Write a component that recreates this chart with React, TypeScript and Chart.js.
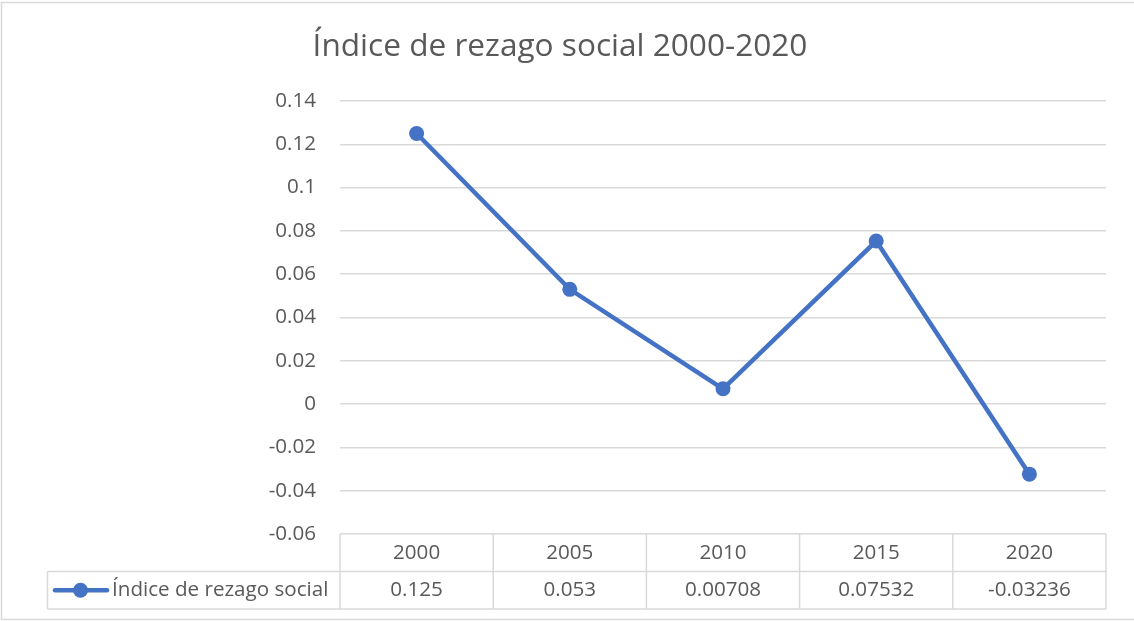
import React, { useEffect, useRef } from "react";
import { Chart, registerables } from "chart.js";

Chart.register(...registerables);

const chartTitle = "Índice de rezago social 2000-2020";
const seriesName = "Índice de rezago social";
const categories = ["2000", "2005", "2010", "2015", "2020"];
const values = [0.125, 0.053, 0.00708, 0.07532, -0.03236];
const valueLabels = ["0.125", "0.053", "0.00708", "0.07532", "-0.03236"];
const yMin = -0.06;
const yMax = 0.14;
const yStep = 0.02;

const FONT = "'Open Sans', sans-serif";
const TEXT = "#595959";
const GRID = "#d9d9d9";
const BLUE = "#4472C4";

const framePlugin = {
  id: "frame",
  beforeDraw(chart: any) {
    const ctx = chart.ctx;
    ctx.save();
    ctx.fillStyle = "#ffffff";
    ctx.fillRect(0, 0, chart.width, chart.height);
    ctx.strokeStyle = GRID;
    ctx.lineWidth = 1.5;
    ctx.strokeRect(1.5, 2.5, chart.width + 20, 617);
    ctx.fillStyle = TEXT;
    ctx.font = `31.6px ${FONT}`;
    ctx.textAlign = "center";
    ctx.textBaseline = "alphabetic";
    ctx.fillText(chartTitle, 560, 56);
    ctx.restore();
  },
};

const tablePlugin = {
  id: "excelTable",
  afterDraw(chart: any) {
    const ctx = chart.ctx;
    const xs = chart.scales.x;
    const area = chart.chartArea;
    const rowH = 37.5;
    const top = area.bottom;
    const mid = top + rowH;
    const bot = top + 2 * rowH;
    const legendLeft = 47.5;
    const n = categories.length;
    const colW = (area.right - area.left) / n;
    ctx.save();
    ctx.strokeStyle = GRID;
    ctx.lineWidth = 1.5;
    ctx.beginPath();
    ctx.moveTo(legendLeft, mid);
    ctx.lineTo(area.right, mid);
    ctx.moveTo(legendLeft, bot);
    ctx.lineTo(area.right, bot);
    ctx.moveTo(legendLeft, mid);
    ctx.lineTo(legendLeft, bot);
    for (let i = 0; i <= n; i++) {
      const px = area.left + i * colW;
      ctx.moveTo(px, top);
      ctx.lineTo(px, bot);
    }
    ctx.stroke();

    ctx.fillStyle = TEXT;
    ctx.font = `20.6px ${FONT}`;
    ctx.textAlign = "center";
    ctx.textBaseline = "middle";
    categories.forEach((c, i) => {
      const cx = xs.getPixelForValue(i);
      ctx.fillText(c, cx, (top + mid) / 2);
      ctx.fillText(valueLabels[i], cx, (mid + bot) / 2);
    });

    const ly = (mid + bot) / 2;
    ctx.strokeStyle = BLUE;
    ctx.lineWidth = 4.5;
    ctx.lineCap = "round";
    ctx.beginPath();
    ctx.moveTo(55, ly);
    ctx.lineTo(107, ly);
    ctx.stroke();
    ctx.fillStyle = BLUE;
    ctx.beginPath();
    ctx.arc(80.5, ly, 7.5, 0, Math.PI * 2);
    ctx.fill();
    ctx.fillStyle = TEXT;
    ctx.textAlign = "left";
    ctx.fillText(seriesName, 112, ly);
    ctx.restore();
  },
};

export default function App() {
  const ref = useRef<HTMLCanvasElement | null>(null);
  useEffect(() => {
    if (!ref.current) return;
    const chart = new Chart(ref.current, {
      type: "line",
      data: {
        labels: categories,
        datasets: [
          {
            label: seriesName,
            data: values,
            borderColor: BLUE,
            backgroundColor: BLUE,
            borderWidth: 4.5,
            pointRadius: 7.5,
            pointBorderWidth: 0,
            pointBackgroundColor: BLUE,
            tension: 0,
          },
        ],
      },
      plugins: [framePlugin, tablePlugin],
      options: {
        animation: false,
        responsive: true,
        maintainAspectRatio: false,
        layout: { padding: { left: 0, right: 28, top: 101, bottom: 87 } },
        plugins: {
          legend: { display: false },
          title: { display: false },
          tooltip: { enabled: false },
        },
        scales: {
          x: {
            type: "category",
            display: false,
            offset: true,
          },
          y: {
            min: yMin,
            max: yMax,
            afterFit(scale: any) {
              scale.width = 340;
            },
            border: { display: false },
            grid: { color: GRID, lineWidth: 1.5, drawTicks: false },
            ticks: {
              stepSize: yStep,
              padding: 24,
              color: TEXT,
              font: { family: FONT, size: 20.6 },
              callback: (v: any) => String(Number(Number(v).toFixed(2))),
            },
          },
        },
      },
    });
    return () => chart.destroy();
  }, []);
  return (
    <div style={{ position: "absolute", left: 0, top: 0, width: 1134, height: 621 }}>
      <canvas ref={ref} />
    </div>
  );
}
